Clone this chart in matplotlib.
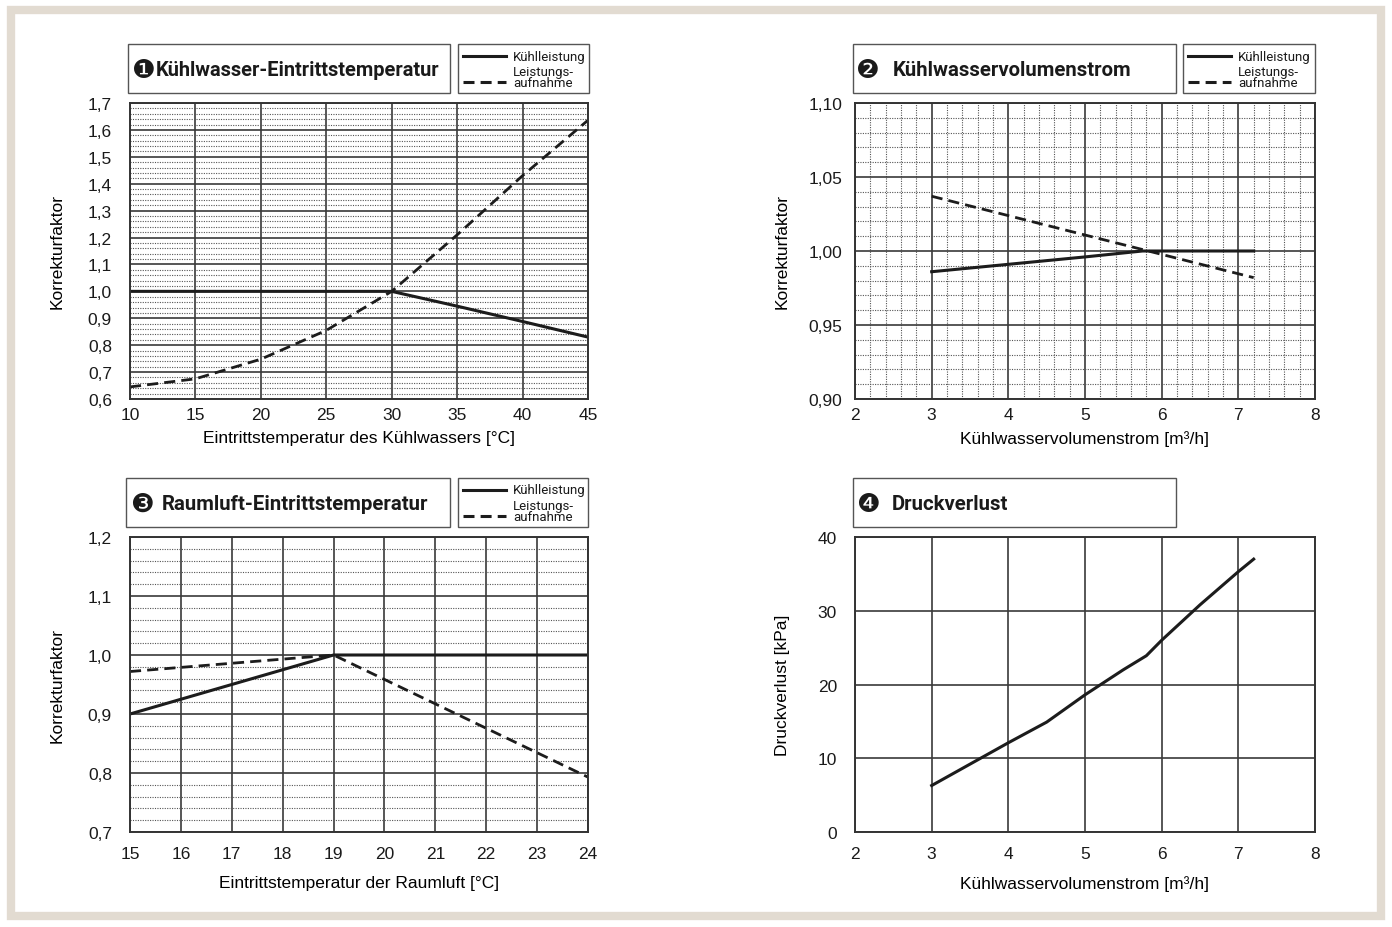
import matplotlib
matplotlib.use('agg')
import matplotlib.pyplot as plt
from matplotlib.lines import Line2D
from matplotlib.patches import Rectangle
from matplotlib.ticker import MultipleLocator, FuncFormatter

plt.rcParams['font.family'] = ['Liberation Sans', 'DejaVu Sans']

# 1: Kühlwasser-Eintrittstemperatur
t_water = [10, 15, 20, 25, 30, 35, 40, 45]
kl_water = [1.0, 1.0, 1.0, 1.0, 1.0, 0.945, 0.888, 0.83]
la_water = [0.645, 0.675, 0.748, 0.855, 1.0, 1.21, 1.43, 1.636]

# 2: Kühlwasservolumenstrom
flow_kl = [3.0, 4.0, 5.0, 5.75, 7.2]
kl_flow = [0.986, 0.991, 0.996, 1.0, 1.0]
flow_la = [3.0, 7.2]
la_flow = [1.037, 0.982]

# 3: Raumluft-Eintrittstemperatur
t_air = [15, 19, 24]
kl_air = [0.90, 1.0, 1.0]
la_air = [0.972, 1.0, 0.793]

# 4: Druckverlust
flow_dp = [3.0, 4.0, 4.5, 5.0, 5.5, 5.8, 6.0, 6.5, 7.0, 7.2]
dp = [6.3, 12.1, 14.9, 18.6, 22.0, 23.9, 26.0, 30.8, 35.3, 37.0]

W, H = 1392, 928
LINE = '#1c1c1c'
GRID = '#3a3a3a'
COND = ['Roboto', 'DejaVu Sans']

fig = plt.figure(figsize=(W / 100, H / 100), dpi=100)

# beige frame
fig.patches.append(Rectangle((11 / W, 11 / H), 1 - 22 / W, 1 - 22 / H, transform=fig.transFigure,
                             fill=False, edgecolor='#e2dbd1', linewidth=6))


def px_axes(x0, y0, x1, y1):
    return fig.add_axes([x0 / W, 1 - y1 / H, (x1 - x0) / W, (y1 - y0) / H])


def comma(dec):
    return FuncFormatter(lambda v, p: f'{v:.{dec}f}'.replace('.', ','))


def style(ax, xlim, ylim, xmaj, ymaj, xmin=None, ymin=None, ydec=1):
    ax.set_xlim(*xlim)
    ax.set_ylim(*ylim)
    ax.xaxis.set_major_locator(MultipleLocator(xmaj))
    ax.yaxis.set_major_locator(MultipleLocator(ymaj))
    ax.yaxis.set_major_formatter(comma(ydec) if ydec else FuncFormatter(lambda v, p: f'{v:.0f}'))
    ax.xaxis.set_major_formatter(FuncFormatter(lambda v, p: f'{v:g}'))
    if xmin:
        ax.xaxis.set_minor_locator(MultipleLocator(xmin))
        ax.grid(True, which='minor', axis='x', color='#555555', linestyle=(0, (1, 1.2)), linewidth=0.8)
    if ymin:
        ax.yaxis.set_minor_locator(MultipleLocator(ymin))
        ax.grid(True, which='minor', axis='y', color='#555555', linestyle=(0, (1, 1.2)), linewidth=0.8)
    ax.grid(True, which='major', color=GRID, linewidth=1.2)
    ax.set_axisbelow(True)
    ax.tick_params(which='both', length=0, labelsize=12.5, colors='#1a1a1a')
    ax.tick_params(axis='y', pad=13)
    ax.tick_params(axis='x', pad=6)
    for s in ax.spines.values():
        s.set_color('#333333')
        s.set_linewidth(1.4)


def title_box(x0, y0, x1, y1, num, text, num_x, text_x, size=14.7):
    fig.patches.append(Rectangle((x0 / W, 1 - y1 / H), (x1 - x0) / W, (y1 - y0) / H,
                                 transform=fig.transFigure, fill=False, edgecolor='#555555', linewidth=1.0))
    yc = 1 - (y0 + y1 + 2) / 2 / H
    fig.text(num_x / W, yc, num, family='DejaVu Sans', fontsize=19, va='center', ha='left', color='#1a1a1a')
    fig.text(text_x / W, yc, text, family=COND, fontweight='bold',
             fontsize=size, va='center', ha='left', color='#1a1a1a')


def legend_box(x0, y0, x1, y1):
    fig.patches.append(Rectangle((x0 / W, 1 - y1 / H), (x1 - x0) / W, (y1 - y0) / H,
                                 transform=fig.transFigure, fill=False, edgecolor='#555555', linewidth=1.0))
    ys = y0 + 12
    yd = y0 + 38
    fig.add_artist(Line2D([(x0 + 5) / W, (x0 + 48) / W], [1 - ys / H, 1 - ys / H],
                          color=LINE, linewidth=2.2, transform=fig.transFigure))
    fig.add_artist(Line2D([(x0 + 5) / W, (x0 + 48) / W], [1 - yd / H, 1 - yd / H],
                          color=LINE, linewidth=2.2, dashes=(3.6, 2), transform=fig.transFigure))
    fig.text((x0 + 55) / W, 1 - ys / H, 'Kühlleistung', family=COND, fontsize=9.5,
             va='center', ha='left', color='#1a1a1a')
    fig.text((x0 + 55) / W, 1 - (y0 + 33) / H, 'Leistungs-\naufnahme', family=COND, fontsize=9.5,
             va='center', ha='left', color='#1a1a1a', linespacing=0.85)


# panel 1
ax1 = px_axes(130, 104, 588, 400)
style(ax1, (10, 45), (0.6, 1.7), 5, 0.1, ymin=0.02)
ax1.plot(t_water, kl_water, color=LINE, linewidth=2.2)
ax1.plot(t_water, la_water, color=LINE, linewidth=2.0, dashes=(4, 2.2))
ax1.set_xlabel('Eintrittstemperatur des Kühlwassers [°C]', fontsize=12.5)
ax1.set_ylabel('Korrekturfaktor', fontsize=12.5)
ax1.xaxis.set_label_coords(0.5, -0.105)
ax1.yaxis.set_label_coords(-0.142, 0.5)
title_box(128, 45, 450, 94, '❶', 'Kühlwasser-Eintrittstemperatur', 132, 156, size=14.4)
legend_box(458, 45, 589, 94)

# panel 2
ax2 = px_axes(855, 104, 1315, 400)
style(ax2, (2, 8), (0.90, 1.10), 1, 0.05, xmin=0.2, ymin=0.01, ydec=2)
ax2.plot(flow_kl, kl_flow, color=LINE, linewidth=2.2)
ax2.plot(flow_la, la_flow, color=LINE, linewidth=2.0, dashes=(4, 2.2))
ax2.tick_params(axis='y', pad=9)
ax2.set_xlabel('Kühlwasservolumenstrom [m³/h]', fontsize=12.5)
ax2.set_ylabel('Korrekturfaktor', fontsize=12.5)
ax2.xaxis.set_label_coords(0.5, -0.105)
ax2.yaxis.set_label_coords(-0.142, 0.5)
title_box(853, 45, 1176, 94, '❷', 'Kühlwasservolumenstrom', 856, 893)
legend_box(1183, 45, 1315, 94)

# panel 3
ax3 = px_axes(130, 538, 588, 833)
style(ax3, (15, 24), (0.7, 1.2), 1, 0.1, ymin=0.02)
ax3.plot(t_air, kl_air, color=LINE, linewidth=2.2)
ax3.plot(t_air, la_air, color=LINE, linewidth=2.0, dashes=(4, 2.2))
ax3.tick_params(axis='x', pad=10)
ax3.set_xlabel('Eintrittstemperatur der Raumluft [°C]', fontsize=12.5)
ax3.set_ylabel('Korrekturfaktor', fontsize=12.5)
ax3.xaxis.set_label_coords(0.5, -0.145)
ax3.yaxis.set_label_coords(-0.142, 0.5)
title_box(126, 479, 450, 528, '❸', 'Raumluft-Eintrittstemperatur', 130, 162)
legend_box(458, 479, 588, 528)

# panel 4
ax4 = px_axes(855, 538, 1315, 833)
style(ax4, (2, 8), (0, 40), 1, 10, ydec=0)
ax4.plot(flow_dp, dp, color=LINE, linewidth=2.2)
ax4.tick_params(axis='x', pad=10)
ax4.set_xlabel('Kühlwasservolumenstrom [m³/h]', fontsize=12.5)
ax4.set_ylabel('Druckverlust [kPa]', fontsize=12.5)
ax4.xaxis.set_label_coords(0.5, -0.145)
ax4.yaxis.set_label_coords(-0.142, 0.5)
title_box(853, 479, 1176, 528, '❹', 'Druckverlust', 856, 892)

fig.savefig('out.png', dpi=100)
